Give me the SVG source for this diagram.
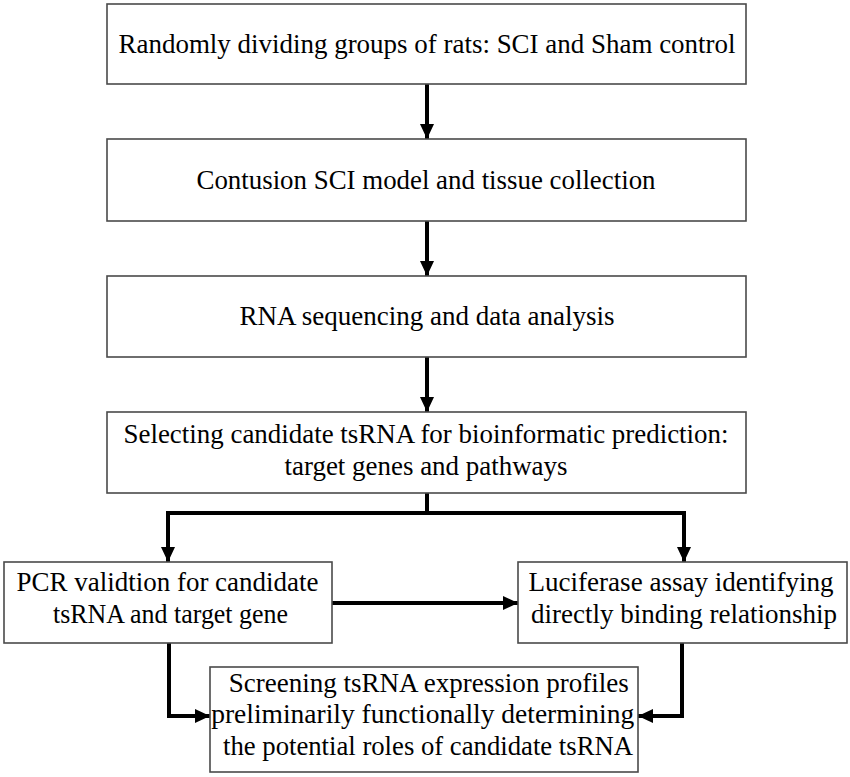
<svg xmlns="http://www.w3.org/2000/svg" width="850" height="777" viewBox="0 0 850 777">
<style>
.box{fill:#fff;stroke:#4a4a4a;stroke-width:1.6}
.t{font-family:"Liberation Serif","Times New Roman",serif;font-size:27px;fill:#000;text-anchor:middle}
.c{fill:none;stroke:#000;stroke-width:4}
</style>
<defs>
<marker id="ah" markerUnits="userSpaceOnUse" markerWidth="15" markerHeight="14" refX="15" refY="7" orient="auto">
<path d="M0,0 L15,7 L0,14 z" fill="#000"/>
</marker>
</defs>
<rect width="850" height="777" fill="#fff"/>
<g id="connectors">
<line class="c" x1="427" y1="84" x2="427" y2="139" marker-end="url(#ah)"/>
<line class="c" x1="427" y1="221" x2="427" y2="276" marker-end="url(#ah)"/>
<line class="c" x1="427" y1="357" x2="427" y2="412" marker-end="url(#ah)"/>
<polyline class="c" points="427,493 427,513"/>
<polyline class="c" points="168,513 684,513" stroke-linecap="square"/>
<line class="c" x1="168" y1="513" x2="168" y2="562" marker-end="url(#ah)"/>
<line class="c" x1="684" y1="513" x2="684" y2="562" marker-end="url(#ah)"/>
<line class="c" x1="332" y1="603" x2="518" y2="603" marker-end="url(#ah)"/>
<polyline class="c" points="169,643 169,716 210,716" marker-end="url(#ah)"/>
<polyline class="c" points="682,643 682,716 638,716" marker-end="url(#ah)"/>
</g>
<g id="n1">
<rect class="box" x="107" y="4" width="639" height="80"/>
<text class="t" x="427" y="53" textLength="617" lengthAdjust="spacingAndGlyphs">Randomly dividing groups of rats: SCI and Sham control</text>
</g>
<g id="n2">
<rect class="box" x="107" y="139" width="639" height="82"/>
<text class="t" x="426" y="189" textLength="459" lengthAdjust="spacingAndGlyphs">Contusion SCI model and tissue collection</text>
</g>
<g id="n3">
<rect class="box" x="107" y="276" width="639" height="81"/>
<text class="t" x="427" y="325" textLength="375" lengthAdjust="spacingAndGlyphs">RNA sequencing and data analysis</text>
</g>
<g id="n4">
<rect class="box" x="107" y="412" width="639" height="81"/>
<text class="t" x="426" y="443" textLength="605" lengthAdjust="spacingAndGlyphs">Selecting candidate tsRNA for bioinformatic prediction:</text>
<text class="t" x="426" y="475" textLength="283" lengthAdjust="spacingAndGlyphs">target genes and pathways</text>
</g>
<g id="n5">
<rect class="box" x="4" y="562" width="328" height="81"/>
<text class="t" x="167.5" y="591" textLength="302" lengthAdjust="spacingAndGlyphs">PCR validtion for candidate</text>
<text class="t" x="170.5" y="623" textLength="235" lengthAdjust="spacingAndGlyphs">tsRNA and target gene</text>
</g>
<g id="n6">
<rect class="box" x="518" y="562" width="329" height="81"/>
<text class="t" x="681" y="591" textLength="305" lengthAdjust="spacingAndGlyphs">Luciferase assay identifying</text>
<text class="t" x="684" y="623" textLength="306" lengthAdjust="spacingAndGlyphs">directly binding relationship</text>
</g>
<g id="n7">
<rect class="box" x="210" y="667" width="428" height="105"/>
<text class="t" x="428.7" y="692" textLength="400" lengthAdjust="spacingAndGlyphs">Screening tsRNA expression profiles</text>
<text class="t" x="422.7" y="723" textLength="423" lengthAdjust="spacingAndGlyphs">preliminarily functionally determining</text>
<text class="t" x="428" y="755" textLength="410" lengthAdjust="spacingAndGlyphs">the potential roles of candidate tsRNA</text>
</g>
</svg>
